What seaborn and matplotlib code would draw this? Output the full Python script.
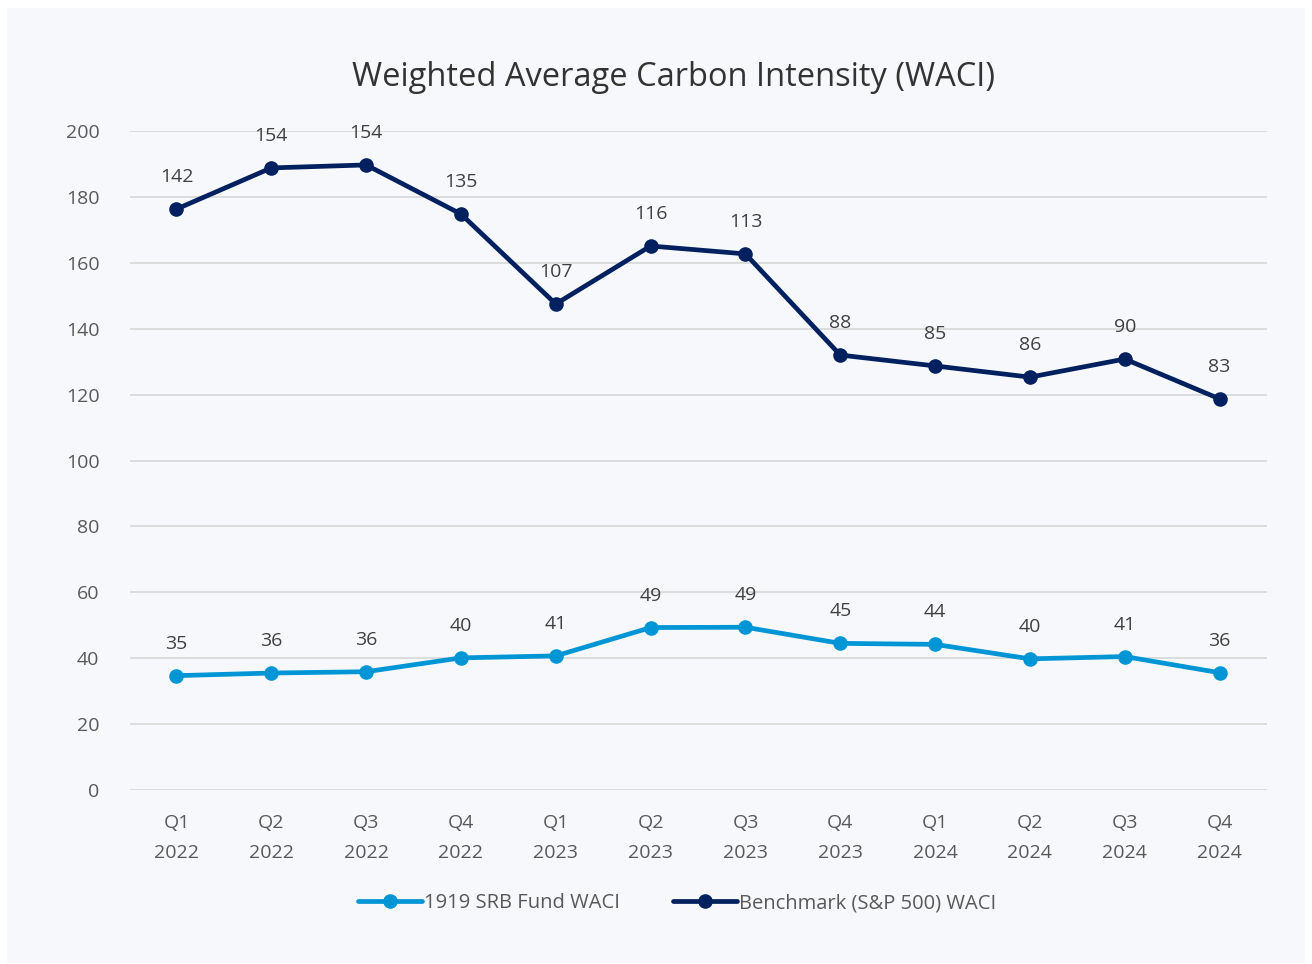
import matplotlib
matplotlib.use("Agg")
import matplotlib.pyplot as plt
import seaborn as sns
import pandas as pd
from matplotlib.lines import Line2D

quarters = ["Q1\n2022", "Q2\n2022", "Q3\n2022", "Q4\n2022",
            "Q1\n2023", "Q2\n2023", "Q3\n2023", "Q4\n2023",
            "Q1\n2024", "Q2\n2024", "Q3\n2024", "Q4\n2024"]
fund_values = [34.7, 35.5, 35.9, 40.1, 40.7, 49.3, 49.4, 44.5, 44.2, 39.8, 40.5, 35.6]
fund_labels = [35, 36, 36, 40, 41, 49, 49, 45, 44, 40, 41, 36]
bench_values = [176.3, 188.8, 189.7, 174.8, 147.5, 165.1, 162.7, 132.0, 128.7, 125.3, 130.8, 118.7]
bench_labels = [142, 154, 154, 135, 107, 116, 113, 88, 85, 86, 90, 83]
series_names = ["1919 SRB Fund WACI", "Benchmark (S&P 500) WACI"]
yticks = [0, 20, 40, 60, 80, 100, 120, 140, 160, 180, 200]

colors = {series_names[0]: "#0096D6", series_names[1]: "#002060"}

sns.set_theme(style="white")
plt.rcParams["font.family"] = ["Open Sans", "DejaVu Sans"]

df = pd.DataFrame({
    "x": list(range(len(quarters))) * 2,
    "value": fund_values + bench_values,
    "series": [series_names[0]] * len(quarters) + [series_names[1]] * len(quarters),
})

bg = "#F7F8FB"
fig = plt.figure(figsize=(13.12, 9.64), dpi=100, facecolor="white")
fig.patches.append(plt.Rectangle((7 / 1312, 1 - 963 / 964), 1298 / 1312, 955 / 964,
                                 transform=fig.transFigure, facecolor=bg,
                                 edgecolor="none", zorder=-10))
ax = fig.add_axes([130 / 1312, 1 - 790 / 964, 1137 / 1312, 659 / 964])
ax.set_facecolor(bg)

sns.lineplot(data=df, x="x", y="value", hue="series", palette=colors, ax=ax,
             linewidth=3.4, marker="o", markersize=10.5, markeredgewidth=0,
             legend=False, zorder=3)

for i, (v, lab) in enumerate(zip(fund_values, fund_labels)):
    ax.annotate(str(lab), (i, v), xytext=(0, 23), textcoords="offset points",
                ha="center", va="center", fontsize=14, color="#404040")
for i, (v, lab) in enumerate(zip(bench_values, bench_labels)):
    ax.annotate(str(lab), (i, v), xytext=(0, 23), textcoords="offset points",
                ha="center", va="center", fontsize=14, color="#404040")

ax.set_xlim(-0.49, 11.5)
ax.set_ylim(0, 200)
ax.set_yticks(yticks)
ax.set_xticks(range(len(quarters)))
ax.set_xticklabels(quarters)
ax.tick_params(axis="both", length=0, labelsize=14, colors="#595959")
ax.tick_params(axis="y", pad=22)
ax.tick_params(axis="x", pad=17)
for lab in ax.get_xticklabels():
    lab.set_linespacing(1.85)
ax.grid(axis="y", color="#D9D9D9", linewidth=1.3)
ax.set_axisbelow(True)
for s in ax.spines.values():
    s.set_visible(False)
ax.set_xlabel("")
ax.set_ylabel("")

fig.text(674 / 1312, 1 - 78 / 964, "Weighted Average Carbon Intensity (WACI)",
         ha="center", va="center", fontsize=23.5, color="#333333")

handles = [Line2D([0], [0], color=colors[n], linewidth=3.4, marker="o",
                  markersize=10.5, markeredgewidth=0) for n in series_names]
fig.legend(handles, series_names, loc="center", bbox_to_anchor=(677 / 1312, 1 - 903 / 964),
           ncol=2, frameon=False, fontsize=14.5, labelcolor="#595959",
           handlelength=3.2, handletextpad=0.1, columnspacing=2.6)

fig.savefig("out.png", dpi=100, facecolor="white")
